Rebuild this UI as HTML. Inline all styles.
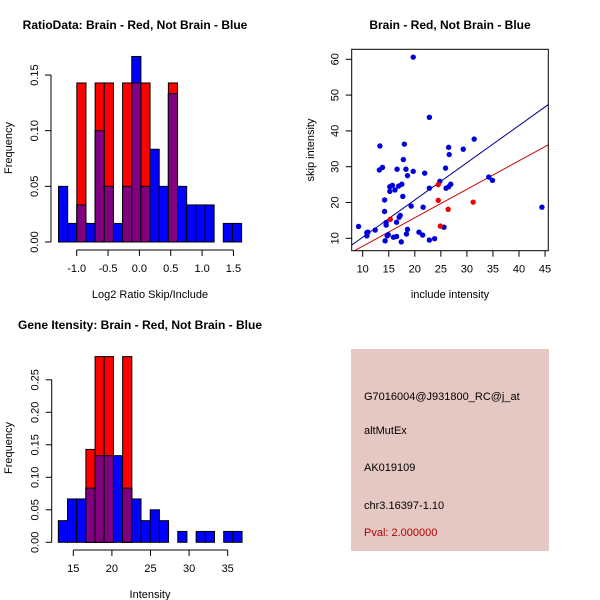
<!DOCTYPE html>
<html><head><meta charset="utf-8"><style>
html,body{margin:0;padding:0;background:#fff;}
svg{display:block;font-family:"Liberation Sans",sans-serif;}
</style></head><body>
<svg id="root" width="600" height="600" viewBox="0 0 600 600" xmlns="http://www.w3.org/2000/svg">
<rect width="600" height="600" fill="#fff"/>
<g id="h1"></g>
<g id="sc"></g>
<g id="h2"></g>
<g>
<rect x="351" y="349" width="198" height="202" fill="#E5C8C2"/>
<text x="364" y="397" font-size="11" dominant-baseline="middle">G7016004@J931800_RC@j_at</text>
<text x="364" y="431" font-size="11" dominant-baseline="middle">altMutEx</text>
<text x="364" y="468" font-size="11" dominant-baseline="middle">AK019109</text>
<text x="364" y="506" font-size="11" dominant-baseline="middle">chr3.16397-1.10</text>
<text x="364" y="533" font-size="11" fill="#B00000" dominant-baseline="middle">Pval: 2.000000</text>
</g>
</svg>
<script>
// Histogram 1 data
const ratioBinStart = -1.29;
const ratioBinWidth = 0.146;
const ratioBlue = [0.05,0.0167,0.0333,0.0167,0.1,0.05,0.0167,0.05,0.1667,0.05,0.0833,0.05,0.1333,0.05,0.0333,0.0333,0.0333,0,0.0167,0.0167];
const ratioRed = [0,0,0.1429,0,0.1429,0.1429,0,0.1429,0.1429,0.1429,0,0,0.1429,0,0,0,0,0,0,0];
const ratioXTicks = ["-1.0","-0.5","0.0","0.5","1.0","1.5"];
const ratioYTicks = ["0.00","0.05","0.10","0.15"];
// Histogram 2 data
const intBinStart = 13.06;
const intBinWidth = 1.19;
const intBlue = [0.0333,0.0667,0.0667,0.0833,0.1333,0.1333,0.1333,0.0833,0.0667,0.0333,0.05,0.0333,0,0.0167,0,0.0167,0.0167,0,0.0167,0.0167];
const intRed = [0,0,0,0.1429,0.2857,0.2857,0,0.2857,0,0,0,0,0,0,0,0,0,0,0,0];
const intXTicks = ["15","20","25","30","35"];
const intYTicks = ["0.00","0.05","0.10","0.15","0.20","0.25"];
// Scatter data
const blueX = [9.2,10.8,10.8,11,12.4,13.3,13.2,13.8,14.2,14.2,14.5,14.5,14.7,14.3,14.9,15.2,15.2,15.7,16.2,15.9,16.5,16.6,16.5,16.9,17.2,17,17.5,17.7,17.4,17.8,18,18.3,18.6,18.4,18.6,19.3,19.7,19.7,20.8,21.5,21.6,21.9,22.8,22.8,22.8,23.8,24.8,25.6,25.9,26,26.5,26.9,26.5,26.6,29.3,31.4,34.2,34.9,44.4];
const blueY = [13.3,10.7,11.6,11.7,12.3,35.8,29.1,29.8,20.7,17.5,14.4,13.7,10.7,9.3,11.0,24.4,23.1,24.8,23.5,10.3,10.5,29.3,14.5,24.6,16.4,15.9,25.1,21.7,9.0,32,36.3,29.3,27.5,11.2,12.5,19.0,28.7,60.6,11.7,10.9,18.7,28.2,43.8,24.0,9.5,9.9,25.9,13.1,29.6,24,24.4,25.1,35.4,33.4,34.9,37.7,27.1,26.2,18.7];
const redX = [15.3,24.5,24.5,24.9,26.4,31.2];
const redY = [15.3,25.0,20.6,13.4,18.1,20.1];
const fitSlope = [1.04, 0.795];
const fitIntercept = [-0.1, -0.16];
const scXTicks = [10,15,20,25,30,35,40,45];
const scYTicks = [10,20,30,40,50,60];

const NS="http://www.w3.org/2000/svg";
function mk(parent,tag,attrs,txt){const e=document.createElementNS(NS,tag);for(const k in attrs)e.setAttribute(k,attrs[k]);if(txt!==undefined)e.textContent=txt;parent.appendChild(e);return e;}

function hist(g,o){
  const sx=v=>o.x0px+(v-o.x0v)*o.xpu, sy=v=>o.y0px-v*o.ypu;
  for(let i=0;i<o.blue.length;i++){
    const a=o.start+i*o.width,b=a+o.width;
    const x=sx(a),w=sx(b)-sx(a);
    const bv=o.blue[i],rv=o.red[i];
    if(bv>0){const r=mk(g,'rect',{x:x,y:sy(bv),width:w,height:sy(0)-sy(bv),fill:'#0000FF',stroke:'#000','stroke-width':1});
      
      }
    if(rv>0){const r=mk(g,'rect',{x:x,y:sy(rv),width:w,height:sy(0)-sy(rv),fill:'#FF0000',stroke:'#000','stroke-width':1});
      
      }
    if(bv>0&&rv>0){const m=Math.min(bv,rv);const r=mk(g,'rect',{x:x,y:sy(m),width:w,height:sy(0)-sy(m),fill:'#800080',stroke:'#000','stroke-width':1});
      
      }
  }
  // y axis
  const yt=o.yticks.map(Number);
  mk(g,'line',{x1:o.yax,x2:o.yax,y1:sy(yt[0]),y2:sy(yt[yt.length-1]),stroke:'#000'});
  o.yticks.forEach(t=>{const y=sy(+t);mk(g,'line',{x1:o.yax,x2:o.yax-6,y1:y,y2:y,stroke:'#000'});
    const tx=mk(g,'text',{x:0,y:0,transform:`translate(${o.yax-13},${y}) rotate(-90)`,'font-size':11,'text-anchor':'middle'},t);
    
    });
  const xt=o.xticks.map(Number);
  mk(g,'line',{x1:sx(xt[0]),x2:sx(xt[xt.length-1]),y1:o.xax,y2:o.xax,stroke:'#000'});
  o.xticks.forEach(t=>{const x=sx(+t);mk(g,'line',{x1:x,x2:x,y1:o.xax,y2:o.xax+6,stroke:'#000'});
    const tx=mk(g,'text',{x:x,y:o.xax+22,'font-size':11,'text-anchor':'middle'},t);
    
    });
}

const h1=document.getElementById('h1');
hist(h1,{start:ratioBinStart,width:ratioBinWidth,blue:ratioBlue,red:ratioRed,x0v:-1,x0px:76.7,xpu:62.7,y0px:242,ypu:1113,yticks:ratioYTicks,xticks:ratioXTicks,yax:51,xax:250});
let t;
t=mk(h1,'text',{x:135,y:29,'font-size':12,'font-weight':'bold','text-anchor':'middle'},'RatioData: Brain - Red, Not Brain - Blue');

t=mk(h1,'text',{x:150,y:298,'font-size':11,'text-anchor':'middle'},'Log2 Ratio Skip/Include');

t=mk(h1,'text',{x:0,y:0,transform:'translate(12,148) rotate(-90)','font-size':11,'text-anchor':'middle'},'Frequency');


const h2=document.getElementById('h2');
hist(h2,{start:intBinStart,width:intBinWidth,blue:intBlue,red:intRed,x0v:15,x0px:73.3,xpu:7.72,y0px:542.3,ypu:650,yticks:intYTicks,xticks:intXTicks,yax:51.7,xax:550});
t=mk(h2,'text',{x:140,y:329,'font-size':12,'font-weight':'bold','text-anchor':'middle'},'Gene Itensity: Brain - Red, Not Brain - Blue');

t=mk(h2,'text',{x:150,y:598,'font-size':11,'text-anchor':'middle'},'Intensity');

t=mk(h2,'text',{x:0,y:0,transform:'translate(12,448) rotate(-90)','font-size':11,'text-anchor':'middle'},'Frequency');


// scatter
const sc=document.getElementById('sc');
const L=351.7,R=548.3,T=49.3,B=250.7;
const sx=v=>362.7+(v-10)*5.21, sy=v=>238.3-(v-10)*3.58;
const cp=mk(sc,'clipPath',{id:'scclip'});mk(cp,'rect',{x:L,y:T,width:R-L,height:B-T});
const lg=mk(sc,'g',{'clip-path':'url(#scclip)'});
const xa=(L-362.7)/5.21+10, xb=(R-362.7)/5.21+10;
['#00008B','#CC0000'].forEach((c,i)=>{
  const ln=mk(lg,'line',{x1:sx(xa),y1:sy(fitSlope[i]*xa+fitIntercept[i]),x2:sx(xb),y2:sy(fitSlope[i]*xb+fitIntercept[i]),stroke:c,'stroke-width':1});
  
  
});
blueX.forEach((x,i)=>{const c=mk(sc,'circle',{cx:sx(x),cy:sy(blueY[i]),r:2.7,fill:'#0000DD'});
  
  });
redX.forEach((x,i)=>{const c=mk(sc,'circle',{cx:sx(x),cy:sy(redY[i]),r:2.7,fill:'#EE0000'});
  
  });
mk(sc,'rect',{x:L,y:T,width:R-L,height:B-T,fill:'none',stroke:'#000'});
scXTicks.forEach(v=>{const x=sx(v);mk(sc,'line',{x1:x,x2:x,y1:B,y2:B+6,stroke:'#000'});
  const tx=mk(sc,'text',{x:x,y:B+22,'font-size':11,'text-anchor':'middle'},String(v));
  
  });
scYTicks.forEach(v=>{const y=sy(v);mk(sc,'line',{x1:L,x2:L-6,y1:y,y2:y,stroke:'#000'});
  const tx=mk(sc,'text',{x:0,y:0,transform:`translate(${L-13},${y}) rotate(-90)`,'font-size':11,'text-anchor':'middle'},String(v));
  
  });
t=mk(sc,'text',{x:450,y:29,'font-size':12,'font-weight':'bold','text-anchor':'middle'},'Brain - Red, Not Brain - Blue');

t=mk(sc,'text',{x:450,y:298,'font-size':11,'text-anchor':'middle'},'include intensity');

t=mk(sc,'text',{x:0,y:0,transform:'translate(314,150) rotate(-90)','font-size':11,'text-anchor':'middle'},'skip intensity');

</script>
</body></html>
